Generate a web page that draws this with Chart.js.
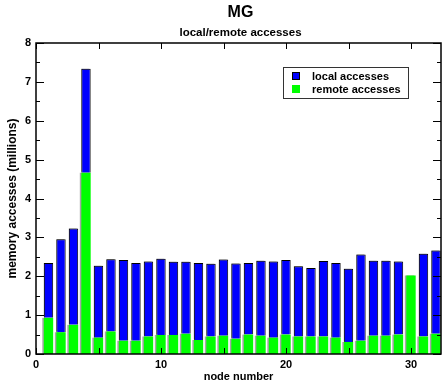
<!DOCTYPE html>
<html>
<head>
<meta charset="utf-8">
<title>MG local/remote accesses</title>
<script src="https://cdn.jsdelivr.net/npm/chart.js@4/dist/chart.umd.min.js"></script>
<style>
    html, body { margin: 0; padding: 0; background: #fff; }
    #wrap { width: 442px; height: 389px; position: relative; }
</style>
</head>
<body>
<div id="wrap"><canvas id="mgChart"></canvas></div>
<script>
// node numbers along the x axis
const nodes = [1, 2, 3, 4, 5, 6, 7, 8, 9, 10, 11, 12, 13, 14, 15, 16,
               17, 18, 19, 20, 21, 22, 23, 24, 25, 26, 27, 28, 29, 30, 31, 32];

// memory accesses per node, in millions
const remoteAccesses = [0.93, 0.56, 0.75, 4.66, 0.42, 0.58, 0.34, 0.34, 0.45, 0.49, 0.49, 0.52, 0.36, 0.45, 0.47, 0.39,
                        0.50, 0.47, 0.42, 0.50, 0.45, 0.45, 0.45, 0.42, 0.31, 0.34, 0.47, 0.47, 0.50, 2.02, 0.45, 0.52];
const localAccesses = [1.41, 2.39, 2.48, 2.68, 1.85, 1.86, 2.08, 2.00, 1.93, 1.96, 1.88, 1.85, 1.98, 1.87, 1.96, 1.94,
                       1.84, 1.93, 1.96, 1.92, 1.81, 1.76, 1.94, 1.92, 1.88, 2.22, 1.93, 1.93, 1.88, 0, 2.13, 2.14];

// tick positions
const xTicks = [0, 10, 20, 30];
const xMinorTicks = [0, 5, 10, 15, 20, 25, 30];
const yTicks = [0, 1, 2, 3, 4, 5, 6, 7, 8];
const yMinorTicks = [0.5, 1.5, 2.5, 3.5, 4.5, 5.5, 6.5, 7.5];

const FONT = '"Liberation Sans", Arial, sans-serif';

// titles, inward ticks on all four sides, the frame and the boxed legend
const framePlugin = {
    id: 'frame',
    beforeDatasetDraw(chart, args) {
        const ctx = chart.ctx;
        ctx.save();
        ctx.shadowColor = 'rgba(0,0,0,0.35)';
        ctx.shadowBlur = 0;
        ctx.shadowOffsetX = -1.5;
        ctx.shadowOffsetY = args.index === 1 ? -1 : 0;
    },
    afterDatasetDraw(chart) {
        chart.ctx.restore();
    },
    afterDatasetsDraw(chart) {
        const ctx = chart.ctx;
        const { left, right, top, bottom } = chart.chartArea;
        const xs = chart.scales.x, ys = chart.scales.y;
        ctx.save();
        ctx.strokeStyle = '#000';
        ctx.lineWidth = 1;
        ctx.beginPath();
        xMinorTicks.forEach(v => {
            const px = Math.round(xs.getPixelForValue(v)) + 0.5;
            ctx.moveTo(px, top); ctx.lineTo(px, top + 6);
            ctx.moveTo(px, bottom); ctx.lineTo(px, bottom - 6);
        });
        yTicks.forEach(v => {
            const py = Math.round(ys.getPixelForValue(v)) + 0.5;
            ctx.moveTo(left, py); ctx.lineTo(left + 8, py);
            ctx.moveTo(right, py); ctx.lineTo(right - 8, py);
        });
        yMinorTicks.forEach(v => {
            const py = Math.round(ys.getPixelForValue(v)) + 0.5;
            ctx.moveTo(left, py); ctx.lineTo(left + 4, py);
            ctx.moveTo(right, py); ctx.lineTo(right - 4, py);
        });
        ctx.stroke();

        ctx.lineWidth = 1.5;
        ctx.strokeRect(left, top, right - left, bottom - top);
        ctx.restore();
    },
    afterDraw(chart) {
        const ctx = chart.ctx;
        const { left, right } = chart.chartArea;
        const cx = (left + right) / 2;
        ctx.save();
        ctx.fillStyle = '#000';
        ctx.textAlign = 'center';
        ctx.textBaseline = 'middle';
        ctx.font = 'bold 16px ' + FONT;
        ctx.fillText('MG', cx + 2, 13);
        ctx.font = 'bold 11.5px ' + FONT;
        ctx.fillText('local/remote accesses', cx + 2, 33);

        // legend box, local first
        ctx.fillStyle = '#fff';
        ctx.fillRect(283.5, 67.5, 125, 31);
        ctx.strokeStyle = '#333';
        ctx.lineWidth = 1;
        ctx.strokeRect(283.5, 67.5, 125, 31);
        const items = [chart.data.datasets[1], chart.data.datasets[0]];
        items.forEach((ds, i) => {
            const y = 72 + i * 13;
            ctx.fillStyle = ds.backgroundColor;
            ctx.fillRect(292, y, 8, 8);
            if (ds === chart.data.datasets[1]) {
                ctx.strokeStyle = '#000';
                ctx.strokeRect(292.5, y + 0.5, 7, 7);
            }
            ctx.fillStyle = '#000';
            ctx.textAlign = 'left';
            ctx.font = 'bold 11px ' + FONT;
            ctx.fillText(ds.label, 312, y + 4.5);
        });
        ctx.restore();
    }
};

const ctx = document.getElementById('mgChart').getContext('2d');
new Chart(ctx, {
    type: 'bar',
    data: {
        datasets: [
            {
                label: 'remote accesses',
                data: nodes.map((n, i) => ({ x: n, y: remoteAccesses[i] })),
                backgroundColor: '#00ff00',
                borderWidth: 0,
                barPercentage: 0.75,
                categoryPercentage: 1
            },
            {
                label: 'local accesses',
                data: nodes.map((n, i) => ({ x: n, y: localAccesses[i] })),
                backgroundColor: '#0000ff',
                borderColor: '#000',
                borderWidth: c => (c.raw && c.raw.y > 0 ? 1 : 0),
                borderSkipped: 'bottom',
                barPercentage: 0.75,
                categoryPercentage: 1
            }
        ]
    },
    options: {
        responsive: true,
        maintainAspectRatio: false,
        animation: false,
        layout: { padding: { top: 43, right: 1, left: 1, bottom: 0 } },
        plugins: {
            legend: { display: false },
            title: { display: false },
            tooltip: { enabled: false }
        },
        scales: {
            x: {
                type: 'linear',
                stacked: true,
                offset: false,
                min: 0,
                max: 32.4,
                grid: { display: false, drawTicks: false, offset: false },
                border: { display: false },
                afterBuildTicks: s => { s.ticks = xTicks.map(v => ({ value: v })); },
                afterFit: s => { s.height = 35; },
                ticks: {
                    padding: 4,
                    color: '#000',
                    font: { family: FONT, size: 11, weight: 'bold' }
                },
                title: {
                    display: true,
                    text: 'node number',
                    color: '#000',
                    padding: 5,
                    font: { family: FONT, size: 11, weight: 'bold' }
                }
            },
            y: {
                stacked: true,
                min: 0,
                max: 8,
                grid: { display: false, drawTicks: false },
                border: { display: false },
                afterBuildTicks: s => { s.ticks = yTicks.map(v => ({ value: v })); },
                afterFit: s => { s.width = 35; },
                ticks: {
                    padding: 5,
                    color: '#000',
                    font: { family: FONT, size: 11, weight: 'bold' }
                },
                title: {
                    display: true,
                    text: 'memory accesses (millions)',
                    color: '#000',
                    padding: 4,
                    font: { family: FONT, size: 12, weight: 'bold' }
                }
            }
        }
    },
    plugins: [framePlugin]
});
</script>
</body>
</html>
